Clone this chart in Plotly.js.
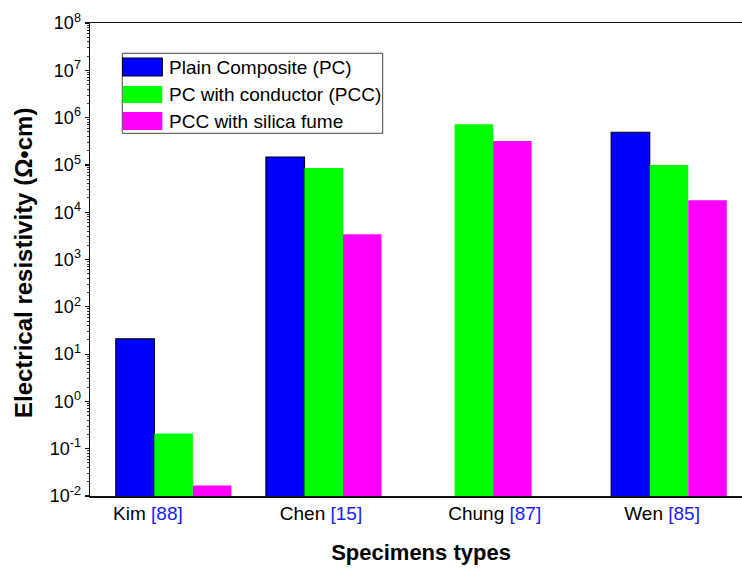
<!DOCTYPE html>
<html><head><meta charset="utf-8">
<script src="https://cdn.plot.ly/plotly-3.0.1.min.js"></script>
<style>html,body{margin:0;padding:0;overflow:hidden;background:#fff}#chart{width:760px;height:572px}</style>
</head><body><div id="chart"></div>
<script>
// ---- data ----
const categories = ['Kim', 'Chen', 'Chung', 'Wen'];
const references = ['[88]', '[15]', '[87]', '[85]'];
const groupX = [1, 2, 3, 4.3];
const labelX = [0.829, 1.982, 3.139, 4.254];
const seriesNames = ['Plain Composite (PC)', 'PC with conductor (PCC)', 'PCC with silica fume'];
const plainComposite = [21, 1.47e5, null, 4.9e5];
const withConductor = [0.21, 8.6e4, 7.2e5, 1.0e5];
const withSilicaFume = [0.0166, 3.4e3, 3.2e5, 1.8e4];
const yTickValues = [1e-2, 1e-1, 1e0, 1e1, 1e2, 1e3, 1e4, 1e5, 1e6, 1e7, 1e8];
const yTickExponents = ['-2', '-1', '0', '1', '2', '3', '4', '5', '6', '7', '8'];
const seriesColors = ['#0000ff', '#00ff00', '#ff00ff'];
const seriesOutline = ['#000022', '#00ff00', '#ff00ff'];
const seriesOutlineWidth = [1.2, 0, 0];

const FONT = 'Liberation Sans, Arial, sans-serif';
const seriesValues = [plainComposite, withConductor, withSilicaFume];

const traces = seriesValues.map((vals, i) => ({
  type: 'bar',
  x: groupX,
  y: vals,
  name: seriesNames[i],
  marker: {color: seriesColors[i], line: {color: seriesOutline[i], width: seriesOutlineWidth[i]}},
  showlegend: false,
  hoverinfo: 'x+y+name'
}));

// plot area geometry (px) for legend placement
const W = 760, H = 572, ML = 90, MR = 8, MT = 23, MB = 76;
const PW = W - ML - MR, PH = H - MT - MB;
const px2x = p => (p - ML) / PW;
const px2y = p => (H - MB - p) / PH;

const shapes = [];
const annotations = [];
// legend box
shapes.push({type: 'rect', xref: 'paper', yref: 'paper',
  x0: px2x(122.3), x1: px2x(382.7), y0: px2y(133.3), y1: px2y(53.3),
  line: {color: '#444', width: 1}, fillcolor: '#fff'});
const rowTop = [58, 86, 112];
const rowBot = [76, 103, 130];
seriesNames.forEach((n, i) => {
  shapes.push({type: 'rect', xref: 'paper', yref: 'paper',
    x0: px2x(122.7), x1: px2x(162.3), y0: px2y(rowBot[i]), y1: px2y(rowTop[i]),
    fillcolor: seriesColors[i],
    line: {color: seriesOutline[i], width: seriesOutlineWidth[i] > 0 ? 1.2 : 0}});
  annotations.push({xref: 'paper', yref: 'paper', x: px2x(167), y: px2y((rowTop[i] + rowBot[i]) / 2),
    xanchor: 'left', yanchor: 'middle', showarrow: false, text: n,
    font: {family: FONT, size: 19, color: '#000'}});
});
// y-axis title as annotation for precise placement
annotations.push({xref: 'paper', yref: 'paper', x: px2x(23), y: px2y(263),
  xanchor: 'center', yanchor: 'middle', textangle: -90, showarrow: false,
  text: '<b>Electrical resistivity (Ω•cm)</b>', font: {family: FONT, size: 24, color: '#000'}});

const tickText = categories.map((c, i) => c + ' <span style="color:#1a1aff">' + references[i] + '</span>');
const yTickText = yTickExponents.map(e => '10<sup>' + e + '</sup>');

const layout = {
  width: W, height: H,
  margin: {l: ML, r: MR, t: MT, b: MB, pad: 0},
  paper_bgcolor: '#fff', plot_bgcolor: '#fff',
  barmode: 'group', bargap: 0.23, bargroupgap: 0,
  xaxis: {
    range: [0.443, 4.853], showgrid: false, zeroline: false,
    showline: true, linecolor: '#111', linewidth: 1.5, mirror: true,
    tickmode: 'array', tickvals: labelX, ticktext: tickText,
    ticks: '', ticklen: 0,
    tickfont: {family: FONT, size: 19, color: '#000'},
    title: {text: '<b>Specimens types</b>', font: {family: FONT, size: 22, color: '#000'}, standoff: 21}
  },
  yaxis: {
    type: 'log', range: [-2, 8],
    tickmode: 'array', tickvals: yTickValues, ticktext: yTickText,
    showgrid: false, zeroline: false,
    showline: true, linecolor: '#111', linewidth: 1.5, mirror: true,
    ticks: 'outside', ticklen: 4, tickwidth: 1.2, tickcolor: '#111',
    minor: {ticks: 'outside', ticklen: 2, tickwidth: 1, tickcolor: '#333', dtick: 'D1'},
    tickfont: {family: FONT, size: 18, color: '#000'}
  },
  shapes: shapes,
  annotations: annotations,
  showlegend: false
};

Plotly.newPlot('chart', traces, layout, {displayModeBar: false, staticPlot: true});
</script>
</body></html>
